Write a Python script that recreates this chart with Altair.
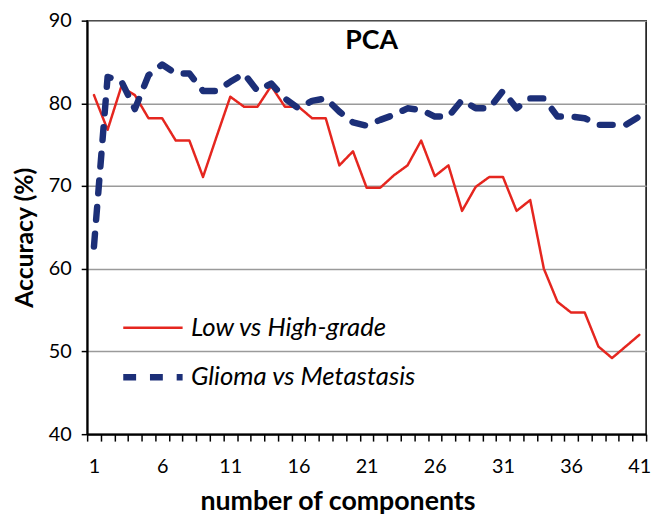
import altair as alt
import pandas as pd

components = list(range(1, 42))
low_vs_high = [81.0, 76.8, 82.0, 81.0, 78.2, 78.2, 75.5, 75.5, 71.1, 76.0,
               80.8, 79.6, 79.6, 82.1, 79.6, 79.6, 78.2, 78.2, 72.5, 74.2,
               69.8, 69.8, 71.3, 72.5, 75.5, 71.2, 72.5, 67.0, 69.9, 71.1,
               71.1, 67.0, 68.3, 60.0, 56.0, 54.7, 54.7, 50.6, 49.2, 50.6, 52.0]
glioma_vs_meta = [62.7, 83.2, 82.7, 79.3, 83.4, 84.7, 83.6, 83.6, 81.5, 81.5,
                  82.6, 83.6, 81.5, 82.4, 80.6, 79.4, 80.3, 80.6, 79.0, 77.7,
                  77.3, 78.0, 78.6, 79.4, 79.2, 78.4, 78.4, 80.4, 79.4, 79.4,
                  81.5, 79.4, 80.6, 80.6, 78.4, 78.4, 78.2, 77.4, 77.4, 77.4, 78.4]
series_names = ["Low vs High-grade", "Glioma vs Metastasis"]
series_colors = ["#e5261f", "#1c2f78"]
y_ticks = [40, 50, 60, 70, 80, 90]

df = pd.concat([
    pd.DataFrame({"n": components, "acc": low_vs_high, "series": series_names[0]}),
    pd.DataFrame({"n": components, "acc": glioma_vs_meta, "series": series_names[1]}),
])

FONT = "Lato"

legend_cfg = dict(title=None, orient="none", legendX=33, legendY=279,
                  symbolType="stroke", symbolSize=3600,
                  labelFontSize=26, labelFontStyle="italic", labelLimit=400,
                  labelFont=FONT, labelColor="black", labelOffset=5,
                  rowPadding=3, padding=0)

chart = alt.Chart(df).mark_line(strokeCap="round", strokeJoin="round").encode(
    x=alt.X("n:O", bandPosition=0.5,
            scale=alt.Scale(type="band", paddingInner=0, paddingOuter=0),
            axis=alt.Axis(title="number of components", tickBand="extent",
                          labelExpr="(datum.value - 1) % 5 == 0 ? datum.label : ''",
                          labelAngle=0, labelFontSize=20, labelPadding=16,
                          titleFontSize=27, titleFontWeight="bold", titlePadding=12,
                          titleX=253,
                          tickSize=7, tickWidth=1.5, domainWidth=2, domainColor="black",
                          tickColor="black", labelColor="black", titleColor="black",
                          labelFont=FONT, titleFont=FONT, grid=False)),
    y=alt.Y("acc:Q", scale=alt.Scale(domain=[40, 90], nice=False, zero=False),
            axis=alt.Axis(title="Accuracy (%)", values=y_ticks, labelFontSize=20,
                          labelPadding=10, titleFontSize=25, titleFontWeight="bold",
                          titlePadding=11, titleY=219, tickSize=6, tickWidth=1.5,
                          domainWidth=2,
                          domainColor="black", tickColor="black", labelColor="black",
                          titleColor="black", labelFont=FONT, titleFont=FONT,
                          grid=True, gridColor="#9a9a9a", gridWidth=1.5)),
    color=alt.Color("series:N", scale=alt.Scale(domain=series_names, range=series_colors),
                    legend=alt.Legend(**legend_cfg)),
    strokeDash=alt.StrokeDash("series:N",
                              scale=alt.Scale(domain=series_names, range=[[1, 0], [13, 14]]),
                              legend=alt.Legend(**legend_cfg)),
    strokeWidth=alt.StrokeWidth("series:N",
                                scale=alt.Scale(domain=series_names, range=[2.5, 6.5]),
                                legend=None),
).properties(
    width=565, height=418,
    autosize=alt.AutoSizeParams(type="none"),
    padding={"left": 80, "top": 10, "right": 10, "bottom": 86},
    title=alt.TitleParams("PCA", fontSize=27, fontWeight="bold", font=FONT,
                          anchor="middle", dy=49, dx=5, color="black"),
).configure_view(stroke="black", strokeWidth=1.5)

chart.save("out.html", embed_options={"renderer": "svg", "actions": False})
